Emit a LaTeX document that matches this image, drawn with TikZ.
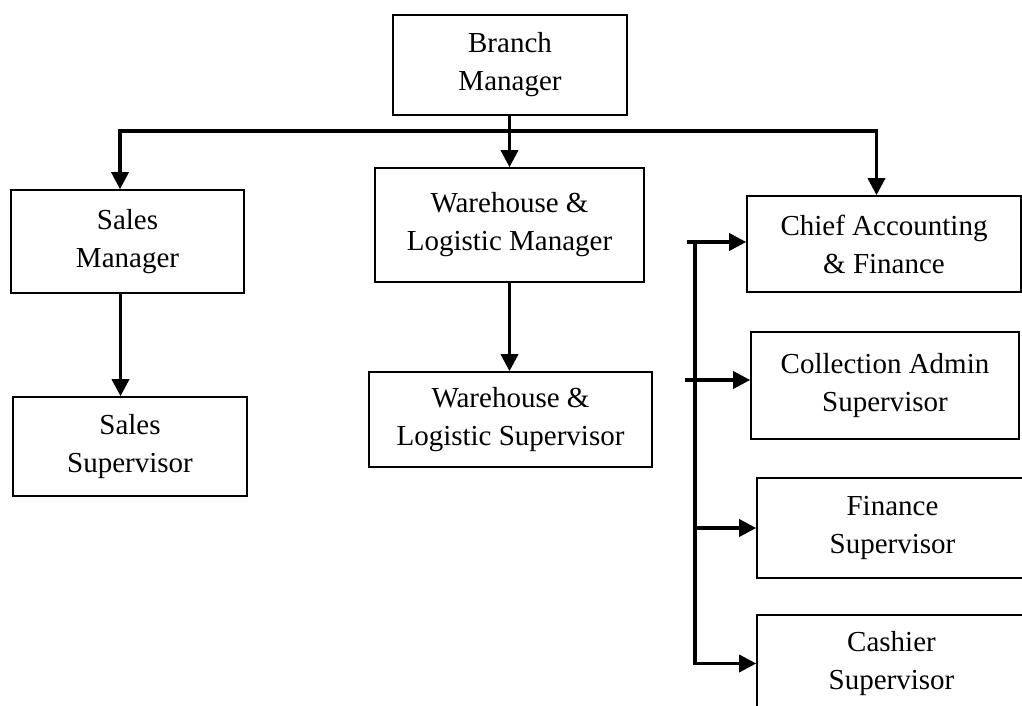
\documentclass[tikz,border=0pt]{standalone}
\usepackage{fontspec}
\setmainfont{Liberation Serif}
\usetikzlibrary{arrows.meta}
\begin{document}
\begin{tikzpicture}[x=1pt,y=-1pt,
  box/.style={draw, line width=1.6pt, rectangle, align=center, inner sep=0pt,
    font=\fontsize{29pt}{38pt}\selectfont},
  conn/.style={line width=3.4pt},
  arr/.style={conn, -{Triangle[length=17pt,width=17pt]}}]
\fill[white] (0,0) rectangle (1022,706);
\useasboundingbox (0,0) rectangle (1022,706);
\clip (0,0) rectangle (1022,706);

% boxes
\node[box, minimum width=234pt, minimum height=100pt] (bm) at (510,65) {Branch\\Manager};
\node[box, minimum width=233pt, minimum height=103pt] (sm) at (127.5,241.5) {Sales\\Manager};
\node[box, minimum width=269pt, minimum height=114pt] (wm) at (509.5,225) {Warehouse \&\\Logistic Manager};
\node[box, minimum width=274pt, minimum height=96pt] (ca) at (884,244) {Chief Accounting\\\& Finance};
\node[box, minimum width=234pt, minimum height=99pt] (ss) at (130,446.5) {Sales\\Supervisor};
\node[box, minimum width=283pt, minimum height=95pt] (ws) at (510.5,419.5) {Warehouse \&\\Logistic Supervisor};
\node[box, minimum width=268pt, minimum height=107pt] (cl) at (885,385.5) {Collection Admin\\Supervisor};
\node[box, minimum width=271pt, minimum height=100pt] (fs) at (892.5,528) {Finance\\Supervisor};
\node[box, minimum width=269pt, minimum height=97pt] (cs) at (891.5,663.5) {Cashier\\Supervisor};

% top level bus
\coordinate (bus) at (508,131);
\draw[arr] (wm.north |- bm.south) -- (wm.north);
\draw[arr] (bus) -| ([xshift=-7.5pt]sm.north);
\draw[arr] (bus) -| ([xshift=-7.5pt]ca.north);

% second level
\draw[arr] ([xshift=-7pt]sm.south) -- ([xshift=-7pt]sm.south |- ss.north);
\draw[arr] (wm.south) -- (wm.south |- ws.north);

% finance branch
\coordinate (spine) at (695,242);
\coordinate (j1) at (687,242);
\coordinate (j2) at (685,380);
\draw[arr] (j1) -- (j1 -| ca.west);
\draw[arr] (j2) -- (j2 -| cl.west);
\draw[arr] (spine |- fs.west) -- (fs.west);
\draw[arr] (spine) |- (cs.west);
\end{tikzpicture}
\end{document}
